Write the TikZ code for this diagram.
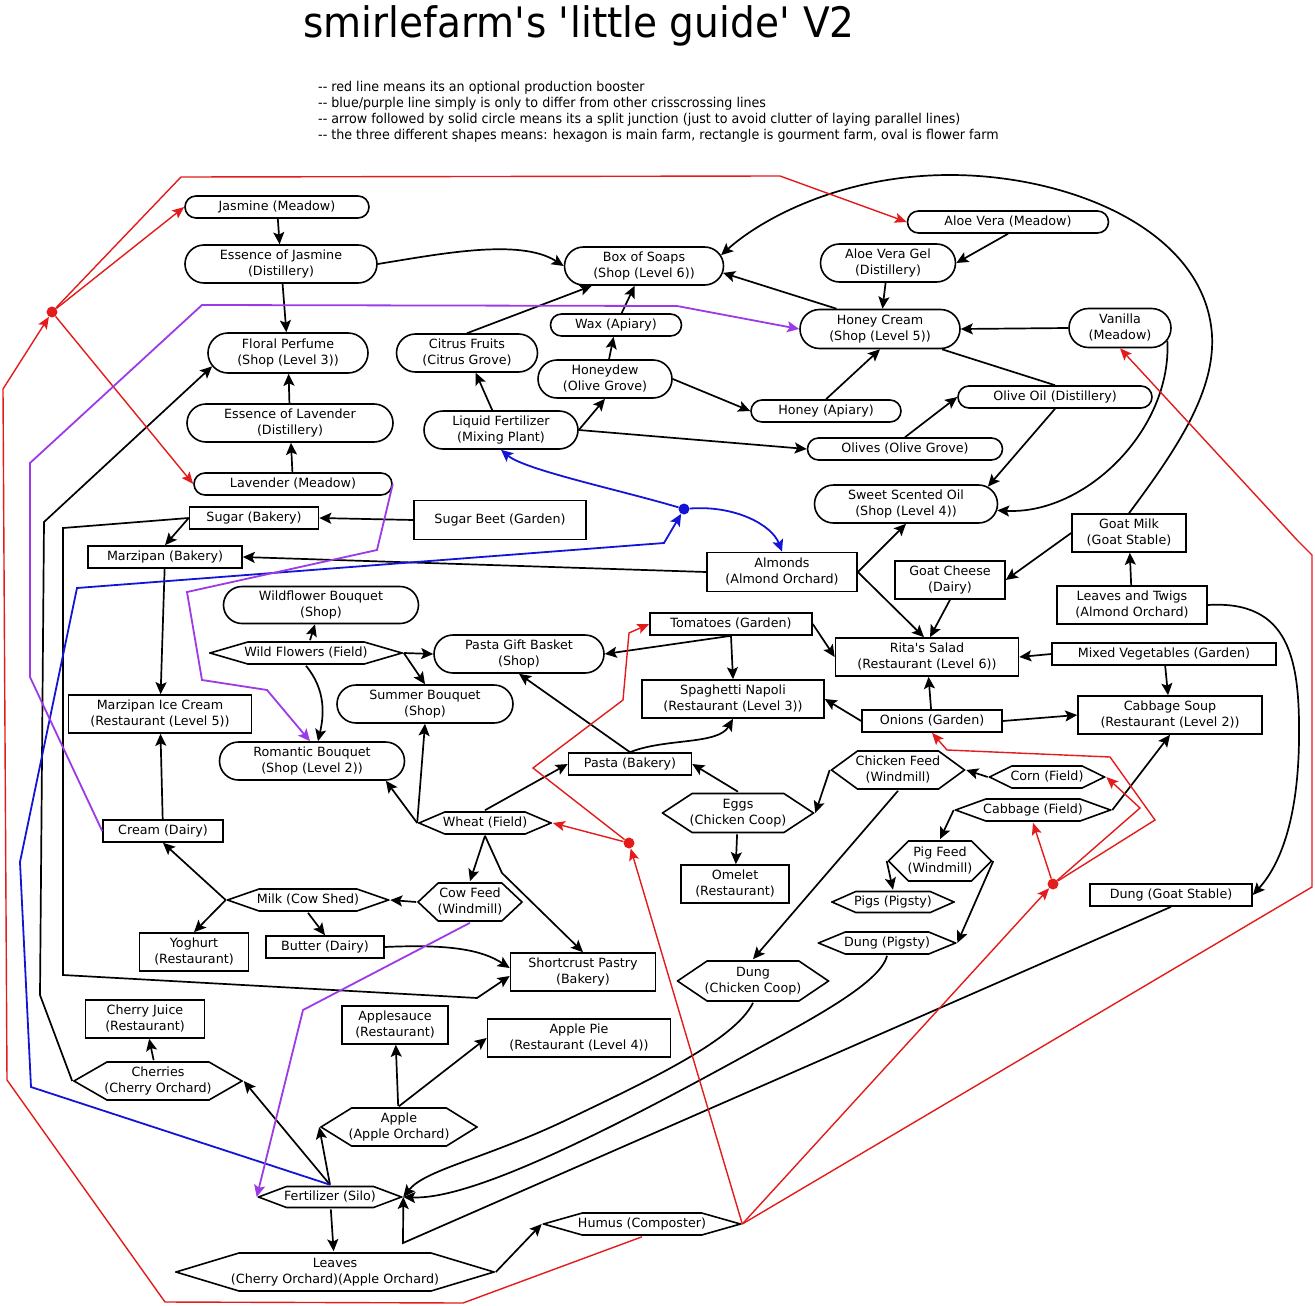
\documentclass[tikz,border=0pt]{standalone}
\usepackage{fontspec}
\setmainfont{DejaVu Sans}
\newfontfamily\titlefont[FakeStretch=0.93]{DejaVu Sans}
\newfontfamily\legendfont[FakeStretch=0.94]{DejaVu Sans}
\usepackage{tikz}
\usetikzlibrary{arrows.meta, calc, shapes.misc}
\definecolor{boostred}{HTML}{E31B1B}
\definecolor{splitblue}{HTML}{1414D6}
\definecolor{splitpurple}{HTML}{9B3AE6}
\newcommand\hexbox{path picture bounding box}

\tikzset{
  farmnode/.style={line width=1.6pt, fill=white, inner sep=1pt, align=center, font=\fontsize{12.7}{16}\selectfont},
  flower/.style={farmnode, rounded rectangle, draw},
  gourmet/.style={farmnode, rectangle, draw},
  mainfarm/.style={farmnode, rectangle, path picture={
    \draw[line width=1.6pt]
      ($(\hexbox.west)+(1,0)$)
      -- ($(\hexbox.north west)!.2!(\hexbox.north east)+(0,1)$)
      -- ($(\hexbox.north west)!.8!(\hexbox.north east)+(0,1)$)
      -- ($(\hexbox.east)+(-1,0)$)
      -- ($(\hexbox.south west)!.8!(\hexbox.south east)+(0,-1)$)
      -- ($(\hexbox.south west)!.2!(\hexbox.south east)+(0,-1)$)
      -- cycle;}},
  feed/.style={line width=1.7pt, -{Stealth[length=12pt,width=11pt,inset=2.5pt]}},
  booster/.style={boostred, line width=1.4pt, -{Stealth[length=12pt,width=10pt,inset=2.5pt]}},
  split/.style={line width=1.8pt, -{Stealth[length=12pt,width=11pt,inset=2.5pt]}},
  junction/.style={circle, inner sep=0pt, minimum size=11pt}
}

\begin{document}
\begin{tikzpicture}[x=1pt, y=-1pt]
  \useasboundingbox (0,0) rectangle (1315,1306);
  \node[anchor=base west, inner sep=0pt, font=\titlefont\fontsize{42}{48}\selectfont] (title) at (303,38)
    {smirlefarm\textquotesingle s \textquotesingle little guide\textquotesingle{} V2};
  \node[anchor=north west, inner sep=0pt, align=left, font=\legendfont\fontsize{13.5}{16}\selectfont] (legend) at (318,81)
    {-{}- red line means its an optional production booster\\
     -{}- blue/purple line simply is only to differ from other crisscrossing lines\\
     -{}- arrow followed by solid circle means its a split junction (just to avoid clutter of laying parallel lines)\\
     -{}- the three different shapes means: hexagon is main farm, rectangle is gourment farm, oval is flower farm};

  % oval = flower farm
  \foreach \nm/\px/\py/\bw/\bh/\txt in {
      jasmine/277/207/186/22/{Jasmine (Meadow)},
      essjas/281/264/194/38/{Essence of Jasmine\\(Distillery)},
      floral/288/353/162/40/{Floral Perfume\\(Shop (Level 3))},
      esslav/290/423/208/38/{Essence of Lavender\\(Distillery)},
      lavender/293/484/200/22/{Lavender (Meadow)},
      soaps/644/266/161/38/{Box of Soaps\\(Shop (Level 6))},
      citrus/467/353/143/38/{Citrus Fruits\\(Citrus Grove)},
      wax/616/325/133/22/{Wax (Apiary)},
      honeydew/605/379/136/38/{Honeydew\\(Olive Grove)},
      liquid/501/430/156/38/{Liquid Fertilizer\\(Mixing Plant)},
      aloevera/1008/222/203/22/{Aloe Vera (Meadow)},
      aloegel/888/263/137/38/{Aloe Vera Gel\\(Distillery)},
      honeycream/880/329/162/39/{Honey Cream\\(Shop (Level 5))},
      vanilla/1120/328/104/39/{Vanilla\\(Meadow)},
      honey/826/411/152/22/{Honey (Apiary)},
      oliveoil/1055/397/196/22/{Olive Oil (Distillery)},
      olives/905/449/197/22/{Olives (Olive Grove)},
      sweetoil/906/504/185/38/{Sweet Scented Oil\\(Shop (Level 4))},
      wildbouquet/321/605/197/37/{Wildflower Bouquet\\(Shop)},
      pastabasket/519/654/172/38/{Pasta Gift Basket\\(Shop)},
      summer/425/704/178/38/{Summer Bouquet\\(Shop)},
      romantic/312/761/187/38/{Romantic Bouquet\\(Shop (Level 2))}}
    \node[flower, minimum width=\bw pt, minimum height=\bh pt] (\nm) at (\px,\py) {\txt};

  % rectangle = gourmet farm
  \foreach \nm/\px/\py/\bw/\bh/\txt in {
      sugar/254/518/129/22/{Sugar (Bakery)},
      sugarbeet/500/520/172/39/{Sugar Beet (Garden)},
      marzipan/165/557/154/22/{Marzipan (Bakery)},
      almonds/782/572/150/39/{Almonds\\(Almond Orchard)},
      goatmilk/1129/533/114/38/{Goat Milk\\(Goat Stable)},
      goatcheese/950/580/110/38/{Goat Cheese\\(Dairy)},
      leavestwigs/1132/605/150/38/{Leaves and Twigs\\(Almond Orchard)},
      tomatoes/731/624/162/22/{Tomatoes (Garden)},
      ritas/927/657/183/38/{Rita\textquotesingle s Salad\\(Restaurant (Level 6))},
      mixedveg/1164/654/224/22/{Mixed Vegetables (Garden)},
      spaghetti/733/699/182/38/{Spaghetti Napoli\\(Restaurant (Level 3))},
      onions/932/721/140/22/{Onions (Garden)},
      cabbagesoup/1170/715/184/38/{Cabbage Soup\\(Restaurant (Level 2))},
      marzipanice/160/714/183/38/{Marzipan Ice Cream\\(Restaurant (Level 5))},
      pasta/630/764/123/22/{Pasta (Bakery)},
      cream/163/831/120/22/{Cream (Dairy)},
      omelet/735/884/108/38/{Omelet\\(Restaurant)},
      yoghurt/194/952/109/38/{Yoghurt\\(Restaurant)},
      butter/325/947/118/22/{Butter (Dairy)},
      dunggoat/1171/895/162/22/{Dung (Goat Stable)},
      shortcrust/583/972/145/38/{Shortcrust Pastry\\(Bakery)},
      cherryjuice/145/1019/119/38/{Cherry Juice\\(Restaurant)},
      applesauce/395/1025/106/38/{Applesauce\\(Restaurant)},
      applepie/579/1038/183/38/{Apple Pie\\(Restaurant (Level 4))}}
    \node[gourmet, minimum width=\bw pt, minimum height=\bh pt] (\nm) at (\px,\py) {\txt};

  % hexagon = main farm
  \foreach \nm/\px/\py/\bw/\bh/\txt in {
      wildflowers/306/653/194/24/{Wild Flowers (Field)},
      chickenfeed/898/770/135/40/{Chicken Feed\\(Windmill)},
      corn/1047/777/117/24/{Corn (Field)},
      eggs/738/813/153/41/{Eggs\\(Chicken Coop)},
      cabbage/1033/810/157/24/{Cabbage (Field)},
      wheat/485/823/134/24/{Wheat (Field)},
      pigfeed/940/861/105/42/{Pig Feed\\(Windmill)},
      pigs/893/902/124/23/{Pigs (Pigsty)},
      dungpig/887/943/139/24/{Dung (Pigsty)},
      milk/308/900/163/24/{Milk (Cow Shed)},
      cowfeed/470/902/106/40/{Cow Feed\\(Windmill)},
      dungchicken/753/981/153/42/{Dung\\(Chicken Coop)},
      cherries/158/1081/170/40/{Cherries\\(Cherry Orchard)},
      apple/399/1127/158/40/{Apple\\(Apple Orchard)},
      fertilizer/330/1197/145/23/{Fertilizer (Silo)},
      humus/642/1224/199/24/{Humus (Composter)},
      leaves/335/1272/320/40/{Leaves\\(Cherry Orchard)(Apple Orchard)}}
    \node[mainfarm, minimum width=\bw pt, minimum height=\bh pt] (\nm) at (\px,\py) {\txt};

  \node[junction, fill=boostred] (splitA) at (52,312) {};
  \node[junction, fill=boostred] (splitB) at (629,843) {};
  \node[junction, fill=boostred] (splitC) at (1053,884) {};
  \node[junction, fill=splitblue] (splitD) at (684,509) {};

  % straight production lines
  \foreach \a/\b in {jasmine/essjas, essjas/floral, esslav/floral, lavender/esslav, wax/soaps, honeydew/wax,
      liquid/citrus, liquid.east/honeydew.south, liquid.east/olives.west, honeydew.east/honey.west,
      honey.north/honeycream.south, aloevera.south/aloegel.east, aloegel/honeycream, vanilla.west/honeycream.east,
      olives.north/oliveoil.west, leavestwigs/goatmilk, goatmilk.west/goatcheese.east, almonds.east/sweetoil.south,
      almonds.west/marzipan.east, tomatoes.east/ritas.west, tomatoes.south/pastabasket.east, tomatoes.south/spaghetti.north,
      mixedveg.west/ritas.east, mixedveg/cabbagesoup, onions/ritas, onions.west/spaghetti.east, onions.east/cabbagesoup.west,
      cabbage.east/cabbagesoup.south, corn.west/chickenfeed.east, chickenfeed.west/eggs.east, chickenfeed.south/dungchicken.north,
      cabbage.west/pigfeed.north, pigfeed.west/pigs.north, pigfeed.east/dungpig.east, eggs.north/pasta.east, eggs/omelet,
      pasta.north/pastabasket.south, wildflowers/wildbouquet, wildflowers.east/pastabasket.west, wildflowers.east/summer.north,
      wheat.west/romantic.-15, wheat.west/summer.south, wheat.north/pasta.west, wheat.south/cowfeed.north, cowfeed.west/milk.east,
      milk.west/cream.south, milk.west/yoghurt.north, milk.south/butter.north, sugar.west/marzipan.north, sugarbeet.west/sugar.east,
      marzipan/marzipanice, cream/marzipanice, cherries/cherryjuice, fertilizer.north/cherries.east, fertilizer.north/apple.west,
      fertilizer/leaves, apple/applesauce, apple.north/applepie.west, leaves.east/humus.west}
    \draw[feed] (\a) -- (\b);

  % bent and curved production lines
  \draw[feed] (essjas.east) .. controls (440,254) and (520,238) .. (soaps.west);
  \draw[feed] (citrus.north) -- (soaps);
  \draw[feed] (honeycream.155) -- (soaps.-5);
  \draw[feed] (goatmilk.north) .. controls (1180,445) and (1215,390) .. (1212,335)
    .. controls (1205,230) and (1070,175) .. (950,175) .. controls (840,175) and (760,220) .. (soaps.8);
  \draw[line width=1.7pt] ($(honeycream.south)+(62,0)$) -- (oliveoil.north);
  \draw[feed] (oliveoil.south) -- (sweetoil.12);
  \draw[feed] (vanilla.-15) .. controls (1172,430) and (1085,515) .. (sweetoil.-4);
  \draw[feed] (leavestwigs.east) .. controls (1290,600) and (1300,660) .. (1299,740)
    .. controls (1298,820) and (1280,865) .. (dunggoat.east);
  \draw[feed] (almonds.east) -- ($(ritas.north)+(-3,0)$);
  \draw[feed] (goatcheese.south) -- ($(ritas.north)+(3,0)$);
  \draw[feed] (pasta.north) .. controls (665,738) and (718,745) .. (spaghetti.south);
  \draw[feed] (wildflowers.south) .. controls (326,690) and (324,715) .. ($(romantic.north)+(6,0)$);
  \draw[feed] (wheat.south) -- (502,873) -- (shortcrust.north);
  \draw[feed] (butter.east) .. controls (450,944) and (482,950) .. ($(shortcrust.west)+(0,-4)$);
  \draw[feed] (sugar.west) -- (63,528) -- (63,975) -- (477,998) -- ($(shortcrust.west)+(0,4)$);
  \draw[feed] (cherries.west) -- (40,995) -- (44,522) -- (floral.190);
  \draw[feed] (dungchicken.south) .. controls (735,1040) and (650,1080) .. (560,1123)
    .. controls (480,1160) and (425,1170) .. (fertilizer.east);
  \draw[feed] (dungpig.south) .. controls (880,985) and (800,1025) .. (737,1060)
    .. controls (600,1135) and (470,1200) .. (fertilizer.east);
  \draw[feed] (dunggoat.south) -- (403,1243) -- (fertilizer.east);

  % red boosters
  \draw[booster] (humus.south) -- (463,1303) -- (165,1302) -- (7,1080) -- (3,389) -- (splitA);
  \draw[booster] (splitA) -- (jasmine.west);
  \draw[booster] (splitA) -- (lavender.west);
  \draw[booster] (splitA) -- (181,177) -- (780,176) -- (aloevera.west);
  \draw[booster] (humus.east) -- (splitB);
  \draw[booster] (splitB) -- (wheat.east);
  \draw[booster] (splitB) -- (533,768) -- (623,700) -- (629,633) -- (tomatoes.west);
  \draw[booster] (humus.east) -- (splitC);
  \draw[booster] (splitC) -- (cabbage.south);
  \draw[booster] (splitC) -- (1140,808) -- (corn.east);
  \draw[booster] (splitC) -- (1155,820) -- (1110,757) -- (947,750) -- (onions.south);
  \draw[booster] (humus.east) -- (1312,887) -- (1312,555) -- (1297,540) -- (vanilla.south);

  % blue and purple
  \draw[split, splitblue] (fertilizer.north) -- (31,1087) -- (20,862) -- (77,588) -- (664,543) -- (splitD);
  \draw[split, splitblue] (splitD) .. controls (620,490) and (525,470) .. (liquid.south);
  \draw[split, splitblue] (splitD) .. controls (735,505) and (772,525) .. (almonds.north);
  \draw[split, splitpurple] (lavender.east) -- (377,550) -- (187,592) -- (202,680) -- (267,690) -- ($(romantic.north)+(-2,0)$);
  \draw[split, splitpurple] (cream.west) -- (30,677) -- (30,463) -- (202,305) -- (677,306) -- (honeycream.west);
  \draw[split, splitpurple] (cowfeed.south) -- (303,1010) -- (fertilizer.west);
\end{tikzpicture}
\end{document}
